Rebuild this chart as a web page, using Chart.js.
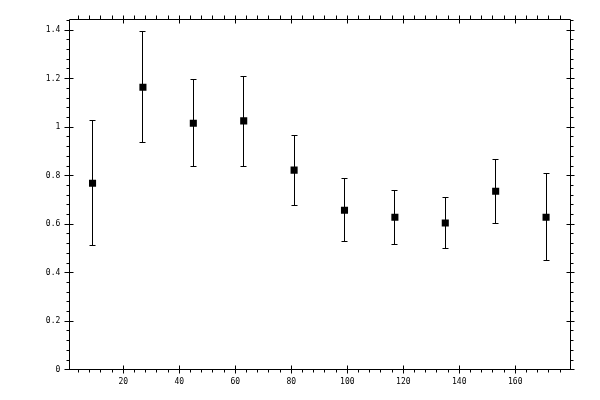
<!DOCTYPE html>
<html>
<head>
<meta charset="utf-8">
<script src="https://cdn.jsdelivr.net/npm/chart.js@4/dist/chart.umd.min.js"></script>
<style>
html,body{margin:0;padding:0;background:#fff;}
canvas{display:block;}
</style>
</head>
<body>
<canvas id="c" width="600" height="400"></canvas>
<script>
// ---- data ----
const xValues = [9, 27, 45, 63, 81, 99, 117, 135, 153, 171];
const yValues = [0.769, 1.165, 1.016, 1.026, 0.823, 0.658, 0.629, 0.605, 0.736, 0.629];
const yLow    = [0.513, 0.938, 0.840, 0.840, 0.678, 0.530, 0.518, 0.501, 0.605, 0.449];
const yHigh   = [1.026, 1.396, 1.198, 1.209, 0.964, 0.790, 0.740, 0.711, 0.868, 0.809];
const xTickValues = [20, 40, 60, 80, 100, 120, 140, 160];
const yTickValues = [0, 0.2, 0.4, 0.6, 0.8, 1, 1.2, 1.4];
const yTickLabels = ['0', '0.2', '0.4', '0.6', '0.8', '1', '1.2', '1.4'];

const points = xValues.map((x, i) => ({x: x, y: yValues[i]}));

function crisp(v){ return Math.floor(v) + 0.5; }

const framePlugin = {
  id: 'frameTicks',
  afterDatasetsDraw(chart) {
    const ctx = chart.ctx;
    const a = chart.chartArea;
    const xs = chart.scales.x, ys = chart.scales.y;
    const L = crisp(a.left), R = crisp(a.right), T = crisp(a.top), B = crisp(a.bottom);
    ctx.save();
    ctx.strokeStyle = '#000';
    ctx.lineWidth = 1;
    ctx.beginPath();
    ctx.rect(L, T, R - L, B - T);
    ctx.stroke();
    ctx.beginPath();
    // x ticks: minor every 4, major every 20
    for (let v = 4; v <= xs.max; v += 4) {
      if (v < xs.min) continue;
      const p = crisp(xs.getPixelForValue(v));
      const major = v % 20 === 0;
      if (major) {
        ctx.moveTo(p, B + 4); ctx.lineTo(p, B - 4);
        ctx.moveTo(p, T - 4); ctx.lineTo(p, T + 4);
      } else {
        ctx.moveTo(p, B); ctx.lineTo(p, B + 3);
        ctx.moveTo(p, T); ctx.lineTo(p, T - 4);
      }
    }
    // y ticks: minor every 0.04, major every 0.2
    for (let k = 0; k * 0.04 <= ys.max + 1e-9; k++) {
      const v = k * 0.04;
      const p = crisp(ys.getPixelForValue(v));
      const major = k % 5 === 0;
      if (major) {
        ctx.moveTo(L - 5, p); ctx.lineTo(L + 4, p);
        ctx.moveTo(R - 4, p); ctx.lineTo(R + 4, p);
      } else {
        ctx.moveTo(L - 3, p); ctx.lineTo(L, p);
        ctx.moveTo(R, p); ctx.lineTo(R + 3, p);
      }
    }
    ctx.stroke();
    ctx.restore();
  }
};

const errorBarPlugin = {
  id: 'errorBars',
  beforeDatasetsDraw(chart) {
    const ctx = chart.ctx;
    const xs = chart.scales.x, ys = chart.scales.y;
    ctx.save();
    ctx.strokeStyle = '#000';
    ctx.lineWidth = 1;
    ctx.beginPath();
    xValues.forEach((x, i) => {
      const px = crisp(xs.getPixelForValue(x));
      const lo = crisp(ys.getPixelForValue(yLow[i]));
      const hi = crisp(ys.getPixelForValue(yHigh[i]));
      ctx.moveTo(px, lo); ctx.lineTo(px, hi);
      ctx.moveTo(px - 3, lo); ctx.lineTo(px + 3, lo);
      ctx.moveTo(px - 3, hi); ctx.lineTo(px + 3, hi);
    });
    ctx.stroke();
    ctx.restore();
  }
};

const font = {family: '"DejaVu Sans Mono", monospace', size: 8};

new Chart(document.getElementById('c'), {
  type: 'scatter',
  data: {
    datasets: [{
      data: points,
      pointStyle: 'rect',
      pointRadius: 5,
      pointBorderWidth: 0,
      backgroundColor: '#000',
      borderColor: '#000',
      showLine: false
    }]
  },
  options: {
    responsive: false,
    animation: false,
    devicePixelRatio: 1,
    layout: {padding: {left: 0, right: 29.3, top: 19.5, bottom: 0}},
    plugins: {legend: {display: false}, tooltip: {enabled: false}},
    scales: {
      x: {
        type: 'linear',
        min: 0.7, max: 179.8,
        grid: {display: false, drawTicks: false},
        border: {display: false},
        afterBuildTicks: (s) => { s.ticks = xTickValues.map(v => ({value: v})); },
        afterFit: (s) => { s.height = 30.2; },
        ticks: {font: font, color: '#000', padding: 7, maxRotation: 0, autoSkip: false,
                callback: (v) => String(v)}
      },
      y: {
        type: 'linear',
        min: 0, max: 1.444,
        grid: {display: false, drawTicks: false},
        border: {display: false},
        afterBuildTicks: (s) => { s.ticks = yTickValues.map(v => ({value: v})); },
        afterFit: (s) => { s.width = 69.3; },
        ticks: {font: font, color: '#000', padding: 9, autoSkip: false,
                callback: (v) => { const i = yTickValues.indexOf(v); return i >= 0 ? yTickLabels[i] : ''; }}
      }
    }
  },
  plugins: [errorBarPlugin, framePlugin]
});
</script>
</body>
</html>
